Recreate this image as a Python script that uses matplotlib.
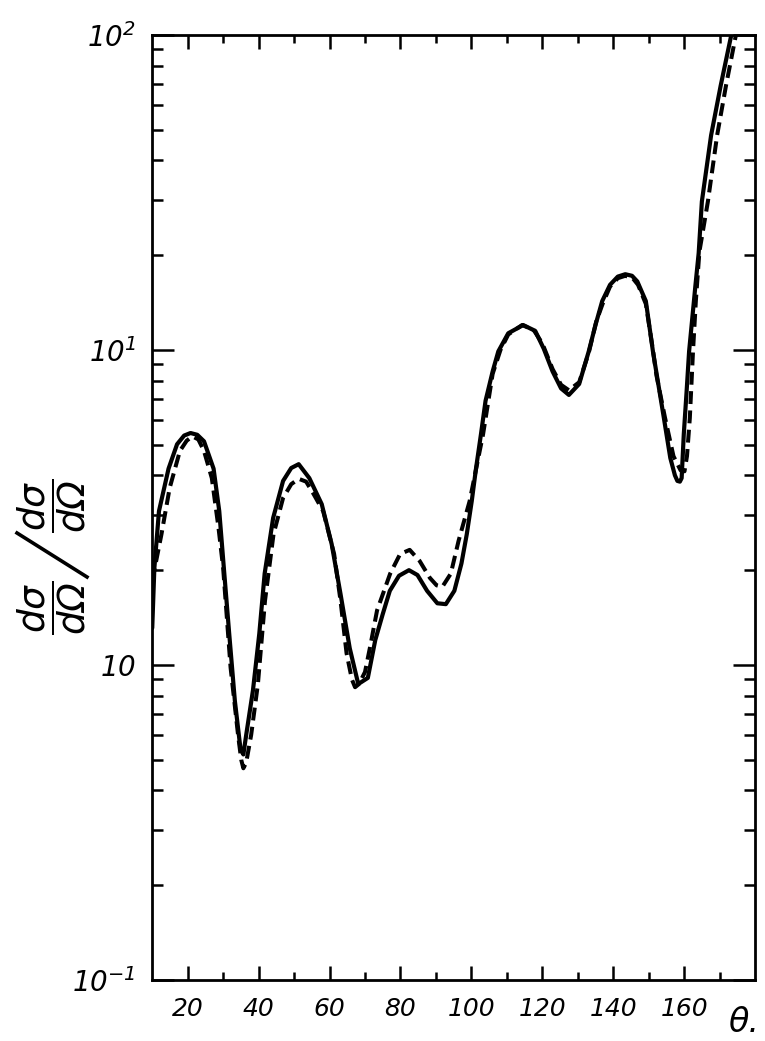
import numpy as np
import matplotlib
matplotlib.use("Agg")
import matplotlib.pyplot as plt
from matplotlib.lines import Line2D
from matplotlib.ticker import FixedLocator, FixedFormatter, LogLocator, NullFormatter

# solid curve (theta in degrees, ratio)
theta_solid = [10, 10.6, 11.9, 14.6, 17.0, 19.0, 20.8, 22.7, 24.6, 27.3, 28.9, 30.2,
               31.7, 33.3, 34.9, 35.7, 36.5, 38.4, 40.2, 41.7, 44.1, 46.9, 49.2,
               51.3, 54.3, 57.8, 60.6, 63.1, 65.7, 68.1, 70.8, 72.9, 75.0, 77.0,
               79.6, 82.4, 84.8, 87.5, 90.4, 92.8, 95.2, 97.2, 98.7, 100.1, 101.3,
               102.7, 104.0, 106.0, 107.6, 110.4, 114.6, 118.0, 120.4, 122.9, 125.3,
               127.5, 130.4, 133.1, 135.0, 136.9, 139.1, 141.3, 143.4, 145.3, 146.8,
               149.2, 151.2, 154.3, 156.1, 157.4, 158.1, 158.8, 159.3, 159.9, 160.7,
               161.4, 163.2, 164.1, 165.0, 167.6, 170.3, 173.3]
ratio_solid = [1.31, 2.03, 3.08, 4.2, 5.02, 5.35, 5.45, 5.38, 5.13, 4.2, 3.08, 2.03,
               1.26, 0.77, 0.54, 0.52, 0.60, 0.83, 1.26, 1.95, 2.93, 3.84, 4.22,
               4.34, 3.92, 3.24, 2.42, 1.68, 1.13, 0.87, 0.91, 1.20, 1.45, 1.72,
               1.92, 2.0, 1.93, 1.72, 1.57, 1.56, 1.72, 2.1, 2.6, 3.31, 4.2,
               5.4, 6.9, 8.55, 9.9, 11.3, 12.0, 11.5, 10.1, 8.55, 7.55,
               7.2, 7.8, 9.9, 12.0, 14.3, 16.1, 17.1, 17.4, 17.2, 16.5,
               14.3, 9.9, 6.07, 4.54, 4.0, 3.84, 3.82, 3.92, 5.4, 7.4,
               9.9, 16.1, 20.3, 29.6, 48.0, 69.0, 100.0]

# dashed curve
theta_dash = [10, 12.6, 14.9, 17.8, 19.7, 21.3, 23.0, 24.6, 26.8, 28.7, 30.0, 32.1,
              34.2, 35.1, 35.7, 36.5, 37.9, 39.8, 41.8, 44.2, 46.9, 49.2, 51.3,
              53.4, 55.5, 58.2, 61.3, 63.1, 64.8, 66.3, 67.2, 68.3, 70.0, 71.5,
              73.4, 77.1, 79.9, 82.6, 85.4, 88.3, 90.2, 91.8, 94.2, 96.4, 99.5,
              103.3, 106.0, 108.2, 110.4, 114.3, 117.5, 120.0, 122.9, 125.3, 127.5,
              130.4, 133.1, 135.2, 137.0, 139.1, 141.3, 143.4, 145.5, 147.0, 149.2,
              151.2, 152.2, 154.6, 157.0, 159.0, 160.1, 160.8, 161.6, 162.5, 163.3,
              164.3, 166.7, 169.3, 171.8, 174.6]
ratio_dash = [1.85, 2.6, 3.64, 4.78, 5.15, 5.32, 5.2, 4.78, 3.92, 2.72, 2.03, 0.98,
              0.60, 0.50, 0.47, 0.49, 0.60, 0.87, 1.6, 2.6, 3.39, 3.75, 3.9,
              3.82, 3.49, 3.08, 2.25, 1.6, 1.09, 0.90, 0.85, 0.87, 0.95, 1.15,
              1.49, 1.95, 2.25, 2.32, 2.14, 1.89, 1.79, 1.77, 1.95, 2.48, 3.31,
              5.4, 8.4, 10.0, 11.2, 12.0, 11.6, 10.5, 8.7, 7.75, 7.45,
              7.9, 9.8, 12.3, 14.0, 15.9, 16.9, 17.2, 16.9, 16.1, 14.0,
              10.0, 8.3, 6.1, 4.6, 4.15, 4.12, 4.6, 6.07, 9.9, 14.3,
              20.5, 29.6, 48.0, 69.0, 100.0]

ytick_vals = [0.1, 1, 10, 100]
ytick_text = [r'$\mathit{10}^{\mathit{-1}}$', r'$\mathit{10}$',
              r'$\mathit{10}^{\mathit{1}}$', r'$\mathit{10}^{\mathit{2}}$']
xtick_vals = [20, 40, 60, 80, 100, 120, 140, 160]

plt.rcParams['mathtext.fontset'] = 'dejavusans'
plt.rcParams['font.style'] = 'italic'

fig = plt.figure(figsize=(7.65, 10.41), dpi=100)
ax = fig.add_axes([0.199, 0.0586, 0.788, 0.9078])

ax.plot(theta_solid, ratio_solid, color='black', lw=3.0,
        solid_joinstyle='round', solid_capstyle='round')
ax.plot(theta_dash, ratio_dash, color='black', lw=2.9, dashes=(3.2, 1.6),
        dash_joinstyle='round')

ax.set_yscale('log')
ax.set_xlim(10, 180)
ax.set_ylim(0.1, 100)

for s in ax.spines.values():
    s.set_linewidth(2.0)

ax.yaxis.set_major_locator(FixedLocator(ytick_vals))
ax.yaxis.set_major_formatter(FixedFormatter(ytick_text))
ax.yaxis.set_minor_locator(LogLocator(base=10, subs=np.arange(2, 10)))
ax.yaxis.set_minor_formatter(NullFormatter())
ax.xaxis.set_major_locator(FixedLocator(xtick_vals))
ax.xaxis.set_minor_locator(FixedLocator([30, 50, 70, 90, 110, 130, 150, 170]))

ax.tick_params(which='both', direction='in', top=True, right=True, width=1.8)
ax.tick_params(axis='y', which='major', length=16, labelsize=20, pad=12)
ax.tick_params(axis='y', which='minor', length=8)
ax.tick_params(axis='x', which='major', length=10, labelsize=18, pad=12)
ax.tick_params(axis='x', which='minor', length=6)

for lab in ax.get_xticklabels():
    lab.set_fontstyle('italic')

# y label: two stacked fractions separated by a slash, rotated
frac = r'$\dfrac{d\sigma}{d\Omega}$'
fig.text(0.067, 1 - 608 / 1041, frac, rotation=90, fontsize=27, ha='center', va='center')
fig.text(0.067, 1 - 506 / 1041, frac, rotation=90, fontsize=27, ha='center', va='center')
fig.add_artist(Line2D([17 / 765, 87 / 765], [1 - 533 / 1041, 1 - 577 / 1041],
                      lw=2.6, color='black'))
fig.text(0.972, 0.018, 'θ.', fontsize=24, fontstyle='italic', ha='center', va='center')

fig.savefig('out.png', dpi=100)
